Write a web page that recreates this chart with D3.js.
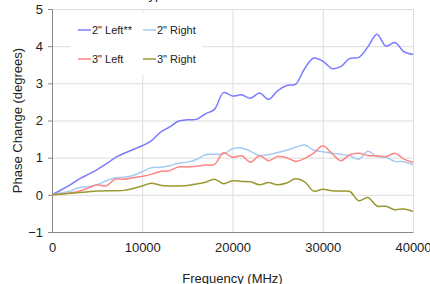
<!DOCTYPE html>
<html>
<head>
<meta charset="utf-8">
<script src="https://cdn.jsdelivr.net/npm/d3@7"></script>
<style>
  body { margin: 0; background: #fff; }
  text { font-family: "Liberation Sans", Arial, sans-serif; fill: #222; }
</style>
</head>
<body>
<div id="chart"></div>
<script>
// DATA (frequency in MHz, phase change in degrees)
var freqs = d3.range(0, 40001, 1000);
var seriesNames = ["2\" Left**", "2\" Right", "3\" Left", "3\" Right"];
var seriesColors = ["#7b7bff", "#a6cbf2", "#ff8585", "#999933"];
var left2 = [0, 0.13, 0.27, 0.42, 0.55, 0.68, 0.83, 1.0, 1.12, 1.22, 1.32, 1.45, 1.68, 1.82, 1.98, 2.02,
  2.03, 2.18, 2.3, 2.75, 2.66, 2.69, 2.6, 2.74, 2.57, 2.8, 2.94, 2.98, 3.4, 3.68, 3.6, 3.4, 3.45, 3.67,
  3.7, 3.98, 4.32, 4.0, 4.1, 3.85, 3.78];
var right2 = [0, 0.05, 0.1, 0.2, 0.22, 0.27, 0.38, 0.46, 0.47, 0.52, 0.62, 0.73, 0.74, 0.78, 0.85, 0.88,
  0.95, 1.08, 1.09, 1.1, 1.24, 1.26, 1.17, 1.06, 1.08, 1.14, 1.2, 1.28, 1.34, 1.2, 1.16, 1.12, 1.09, 1.05,
  0.96, 1.17, 1.03, 1.01, 0.9, 0.89, 0.81];
var left3 = [0, 0.02, 0.05, 0.1, 0.18, 0.27, 0.24, 0.42, 0.42, 0.46, 0.5, 0.55, 0.63, 0.65, 0.75, 0.75,
  0.77, 0.8, 0.82, 1.13, 1.01, 1.05, 0.88, 1.05, 0.92, 1.03, 1.0, 0.9, 0.98, 1.12, 1.32, 1.12, 0.92, 1.08,
  1.12, 1.06, 1.05, 1.03, 1.12, 0.96, 0.87];
var right3 = [0, 0.02, 0.04, 0.06, 0.08, 0.1, 0.11, 0.11, 0.12, 0.17, 0.24, 0.31, 0.26, 0.24, 0.24, 0.25,
  0.29, 0.34, 0.42, 0.3, 0.38, 0.36, 0.35, 0.27, 0.33, 0.27, 0.32, 0.43, 0.35, 0.1, 0.15, 0.11, 0.1, 0.09,
  -0.16, -0.07, -0.3, -0.31, -0.4, -0.38, -0.45];
var allSeries = [left2, right2, left3, right3];
var xTicks = [0, 10000, 20000, 30000, 40000];
var yTicks = [-1, 0, 1, 2, 3, 4, 5];

var svgWidth = 430;
var svgHeight = 284;
var margin = { top: 9, right: 17, bottom: 52, left: 52 };
var width = svgWidth - margin.left - margin.right;
var height = svgHeight - margin.top - margin.bottom;

var svg = d3.select("#chart").append("svg")
  .attr("width", svgWidth)
  .attr("height", svgHeight);

// title, mostly cut off at the top edge
svg.append("text")
  .attr("x", 104)
  .attr("y", -1)
  .attr("font-size", 13)
  .text("Cable Type vs. Bend Radius");

var chartGroup = svg.append("g")
  .attr("transform", `translate(${margin.left}, ${margin.top})`);

var xScale = d3.scaleLinear().domain([0, 40000]).range([0, width]);
var yScale = d3.scaleLinear().domain([-1, 5]).range([height, 0]);

// gridlines
chartGroup.append("g")
  .call(d3.axisLeft(yScale).tickValues(yTicks).tickSize(-width).tickFormat(""))
  .call(g => g.select(".domain").remove())
  .selectAll("line").attr("stroke", "#ddd");
chartGroup.append("g")
  .attr("transform", `translate(0, ${height})`)
  .call(d3.axisBottom(xScale).tickValues(xTicks).tickSize(-height).tickFormat(""))
  .call(g => g.select(".domain").remove())
  .selectAll("line").attr("stroke", "#ddd");

// axes
var yAxis = chartGroup.append("g")
  .call(d3.axisLeft(yScale).tickValues(yTicks).tickSize(4).tickPadding(5).tickFormat(d3.format("d")));
yAxis.select(".domain").attr("stroke", "#888");
yAxis.selectAll("line").attr("stroke", "#888");
yAxis.selectAll("text").attr("font-size", 13).attr("font-family", "Liberation Sans, Arial, sans-serif").attr("fill", "#222");

var xAxis = chartGroup.append("g")
  .attr("transform", `translate(0, ${height})`)
  .call(d3.axisBottom(xScale).tickValues(xTicks).tickSize(0).tickPadding(11).tickFormat(d3.format("d")));
xAxis.select(".domain").attr("stroke", "#888");
xAxis.selectAll("text").attr("font-size", 13).attr("font-family", "Liberation Sans, Arial, sans-serif").attr("fill", "#222");

// lines
var line = d3.line()
  .x((d, i) => xScale(freqs[i]))
  .y(d => yScale(d))
  .curve(d3.curveCatmullRom.alpha(0.5));

chartGroup.selectAll(".series")
  .data(allSeries)
  .enter()
  .append("path")
  .attr("class", "series")
  .attr("d", d => line(d))
  .attr("fill", "none")
  .attr("stroke", (d, i) => seriesColors[i])
  .attr("stroke-width", 1.5);

// legend
var legend = svg.append("g");
legend.append("rect")
  .attr("x", 71).attr("y", 13)
  .attr("width", 132).attr("height", 62)
  .attr("fill", "#fff");
var legendItems = legend.selectAll(".item")
  .data(seriesNames)
  .enter()
  .append("g")
  .attr("transform", (d, i) => `translate(${78 + (i % 2) * 65}, ${30 + Math.floor(i / 2) * 29})`);
legendItems.append("line")
  .attr("x1", 0).attr("x2", 13)
  .attr("stroke", (d, i) => seriesColors[i])
  .attr("stroke-width", 1.5);
legendItems.append("text")
  .attr("x", 14).attr("y", 4)
  .attr("font-size", 11)
  .text(d => d);

// axis labels
svg.append("text")
  .attr("x", margin.left + width / 2)
  .attr("y", 283)
  .attr("text-anchor", "middle")
  .attr("font-size", 13)
  .text("Frequency (MHz)");

svg.append("text")
  .attr("transform", `translate(22, ${margin.top + height / 2}) rotate(-90)`)
  .attr("text-anchor", "middle")
  .attr("font-size", 13)
  .text("Phase Change (degrees)");
</script>
</body>
</html>
